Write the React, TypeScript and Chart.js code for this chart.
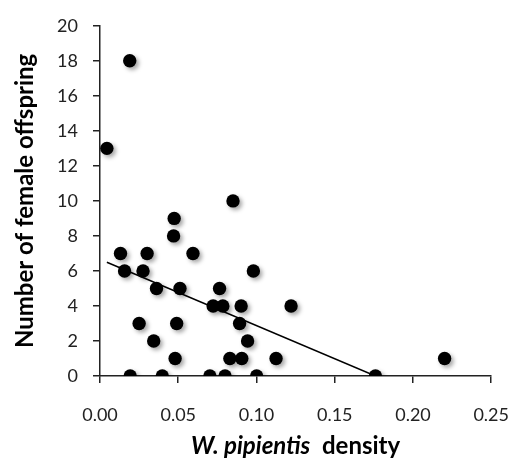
import React, { useEffect, useRef } from "react";
import { Chart, registerables } from "chart.js";

Chart.register(...registerables);

// Scatter data: W. pipientis density (x) vs number of female offspring (y)
const densityValues: number[] = [
  0.0044, 0.019, 0.085, 0.0474, 0.047, 0.0131, 0.0301, 0.0594, 0.0157, 0.0275,
  0.098, 0.0361, 0.0511, 0.0764, 0.0723, 0.0785, 0.0902, 0.1221, 0.025, 0.049,
  0.0892, 0.0343, 0.0943, 0.048, 0.083, 0.0906, 0.1125, 0.2202, 0.0193, 0.0398,
  0.0702, 0.0799, 0.1001, 0.176,
];
const offspringValues: number[] = [
  13, 18, 10, 9, 8, 7, 7, 7, 6, 6,
  6, 5, 5, 5, 4, 4, 4, 4, 3, 3,
  3, 2, 2, 1, 1, 1, 1, 1, 0, 0,
  0, 0, 0, 0,
];

// Linear trend line end points
const trendX: number[] = [0.0044, 0.176];
const trendY: number[] = [6.5, 0];

// Axis ranges / ticks
const xMin = 0;
const xMax = 0.25;
const xStep = 0.05;
const yMin = 0;
const yMax = 20;
const yStep = 2;

const yAxisTitle = "Number of female offspring";
const xTitleItalic = "W. pipientis";
const xTitleRest = "  density";

const FONT = "Lato, 'Open Sans', 'DejaVu Sans', sans-serif";

export default function App() {
  const canvasRef = useRef<HTMLCanvasElement | null>(null);

  useEffect(() => {
    const canvas = canvasRef.current;
    if (!canvas) return;

    const shadowPlugin = {
      id: "pointShadow",
      beforeDatasetDraw(chart: any, args: any) {
        if (args.index !== 0) return;
        const ctx = chart.ctx;
        ctx.save();
        ctx.shadowColor = "rgba(0,0,0,0.35)";
        ctx.shadowBlur = 4;
        ctx.shadowOffsetX = 2.5;
        ctx.shadowOffsetY = 2.5;
      },
      afterDatasetDraw(chart: any, args: any) {
        if (args.index !== 0) return;
        chart.ctx.restore();
      },
    };

    const xTitlePlugin = {
      id: "xTitle",
      afterDraw(chart: any) {
        const ctx = chart.ctx;
        const area = chart.chartArea;
        ctx.save();
        const fItalic = `italic bold 24px ${FONT}`;
        const fBold = `bold 24px ${FONT}`;
        ctx.font = fItalic;
        const w1 = ctx.measureText(xTitleItalic).width;
        ctx.font = fBold;
        const w2 = ctx.measureText(xTitleRest).width;
        const cx = (area.left + area.right) / 2;
        const startX = cx - (w1 + w2) / 2;
        const baseY = 454;
        ctx.fillStyle = "#000";
        ctx.textBaseline = "alphabetic";
        ctx.textAlign = "left";
        ctx.font = fItalic;
        ctx.fillText(xTitleItalic, startX, baseY);
        ctx.font = fBold;
        ctx.fillText(xTitleRest, startX + w1, baseY);
        ctx.restore();
      },
    };

    const scatterPoints = densityValues.map((x, i) => ({ x, y: offspringValues[i] }));
    const trendPoints = trendX.map((x, i) => ({ x, y: trendY[i] }));

    const chart = new Chart(canvas, {
      type: "scatter",
      data: {
        datasets: [
          {
            label: "Offspring",
            data: scatterPoints,
            backgroundColor: "#000",
            borderColor: "#000",
            borderWidth: 0,
            pointRadius: 6.7,
            pointHoverRadius: 6.7,
          },
          {
            type: "line",
            label: "Trend",
            data: trendPoints,
            borderColor: "#000",
            borderWidth: 1.5,
            pointRadius: 0,
            fill: false,
            showLine: true,
          } as any,
        ],
      },
      options: {
        responsive: false,
        animation: false,
        events: [],
        layout: { padding: { left: 0, right: 28, top: 12, bottom: 0 } },
        plugins: {
          legend: { display: false },
          tooltip: { enabled: false },
          title: { display: false },
        },
        scales: {
          x: {
            type: "linear",
            min: xMin,
            max: xMax,
            afterFit(scale: any) {
              scale.height = 88;
            },
            ticks: {
              stepSize: xStep,
              color: "#222",
              font: { family: FONT, size: 18 },
              padding: 21,
              callback: (v: any) => Number(v).toFixed(2),
            },
            grid: {
              display: true,
              drawOnChartArea: false,
              drawTicks: true,
              tickLength: 7,
              color: "#222",
              lineWidth: 1.5,
            },
            border: { display: true, color: "#222", width: 1.5 },
          },
          y: {
            type: "linear",
            min: yMin,
            max: yMax,
            afterFit(scale: any) {
              scale.width = 100;
            },
            ticks: {
              stepSize: yStep,
              color: "#222",
              font: { family: FONT, size: 18 },
              padding: 15,
            },
            grid: {
              display: true,
              drawOnChartArea: false,
              drawTicks: true,
              tickLength: 7,
              color: "#222",
              lineWidth: 1.5,
            },
            border: { display: true, color: "#222", width: 1.5 },
            title: {
              display: true,
              text: yAxisTitle,
              color: "#000",
              font: { family: FONT, size: 24, weight: "bold" },
              padding: { top: 11, bottom: 0 },
            },
          },
        },
      },
      plugins: [shadowPlugin, xTitlePlugin],
    });

    return () => {
      chart.destroy();
    };
  }, []);

  return (
    <div style={{ position: "absolute", left: 0, top: 0, width: 530, height: 464, background: "#fff" }}>
      <canvas ref={canvasRef} width={530} height={464} />
    </div>
  );
}
